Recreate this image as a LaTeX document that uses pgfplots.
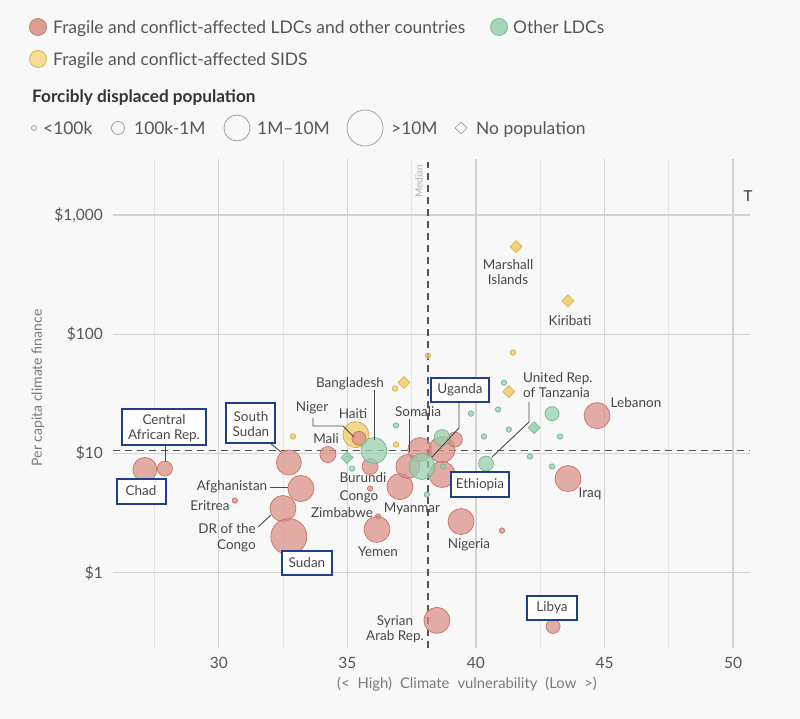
\documentclass[border=0pt]{standalone}
\usepackage{pgfplots}
\pgfplotsset{compat=1.18}
\usepackage{pgfplotstable}
\usepackage{fontspec}
\setmainfont{Lato}

\definecolor{bg}{HTML}{F8F8F8}
\definecolor{rfill}{HTML}{DA8E83}
\definecolor{rdraw}{HTML}{C47468}
\definecolor{gfill}{HTML}{96CFAF}
\definecolor{gdraw}{HTML}{74B590}
\definecolor{yfill}{HTML}{F1CC66}
\definecolor{ydraw}{HTML}{D6AE48}
\definecolor{boxblue}{HTML}{1F3F8C}
\definecolor{lblc}{HTML}{474747}
\definecolor{leadc}{HTML}{4A4A4A}
\definecolor{gridc}{HTML}{D3D3D3}
\definecolor{gridm}{HTML}{E6E6E6}
\definecolor{tickc}{HTML}{555555}
\definecolor{axl}{HTML}{7A7A7A}
\definecolor{medc}{HTML}{555555}
\definecolor{legc}{HTML}{555555}

% red: fragile and conflict-affected LDCs and other countries (x, y, radius)
\pgfplotstableread{
x y r
27.12 7.35 12
27.90 7.48 7.5
32.72 8.41 12.5
33.19 5.09 13
30.62 4.04 2.7
32.49 3.46 13
32.72 2.01 18
34.24 9.81 8
35.88 7.78 8
35.88 5.09 2.7
36.19 2.97 2.7
36.15 2.31 13
37.04 5.28 13
37.35 7.78 12
37.82 10.8 12
38.68 10.8 13
39.18 13.1 7.5
38.68 6.67 13
39.42 2.69 13
41.01 2.26 2.7
43.58 6.17 13
44.71 20.8 13
38.48 0.399 13
43.00 0.355 7
}\redpts

% green: other LDCs
\pgfplotstableread{
x y r
36.03 10.6 13
37.90 7.78 13
38.68 13.6 8
40.39 8.24 7.5
42.96 21.6 7
35.18 7.48 2.7
36.89 17.2 2.7
38.72 7.78 2.7
38.09 4.53 2.7
39.81 21.6 2.7
40.86 23.4 2.7
40.31 13.9 2.7
41.28 15.9 2.7
41.09 39.4 2.7
43.27 13.9 2.7
42.10 9.44 2.7
42.96 7.78 2.7
}\greenpts

\pgfplotstableread{
x y
34.98 9.26
42.26 16.5
}\greendia

% yellow: fragile and conflict-affected SIDS
\pgfplotstableread{
x y r
35.33 14.4 13
32.88 13.9 2.7
38.13 66.2 2.7
36.85 35.1 2.7
41.44 70.2 2.7
36.89 11.9 2.7
}\yellowpts

\pgfplotstableread{
x y
37.20 39.4
41.28 33.1
41.56 543
43.58 191
}\yellowdia

% Niger (red) drawn over Haiti
\pgfplotstableread{
x y r
35.45 13.4 7
}\nigerpt

\pgfplotsset{
  bub/.style 2 args={scatter, only marks, mark=*,
    scatter/use mapped color={draw=#1, fill=#2},
    visualization depends on={\thisrow{r}\as\rad},
    scatter/@pre marker code/.append style={/tikz/mark size=\rad},
    mark options={fill opacity=0.72, line width=0.7pt}},
}
\tikzset{
  lbl/.style={font=\fontsize{13.5}{15.5}\selectfont, text=lblc, inner sep=0pt, align=center},
  lead/.style={draw=leadc, line width=0.9pt},
  bx/.style={draw=boxblue, fill=white, line width=2.7pt},
  leg/.style={font=\fontsize{17.4}{20}\selectfont, text=legc, inner sep=0pt, anchor=base west},
}

\begin{document}
\begin{tikzpicture}[x=1pt,y=1pt]
\fill[bg] (0,0) rectangle (800,-719);

\begin{axis}[
  at={(113pt,-648pt)}, anchor=south west,
  scale only axis, width=637pt, height=489pt,
  xmin=25.88, xmax=50.66,
  ymode=log, ymin=0.234, ymax=2950,
  axis line style={draw=none},
  major tick style={draw=none}, minor tick style={draw=none},
  xtick={30,35,40,45,50}, xticklabels={30,35,40,45,50},
  minor xtick={27.5,32.5,37.5,42.5,47.5},
  ytick={1,10,100,1000}, yticklabels={\$1,\$10,\$100,{\$1,000}},
  xmajorgrids, xminorgrids, ymajorgrids,
  major grid style={draw=gridc, line width=1.1pt},
  minor grid style={draw=gridm, line width=1.1pt},
  ticklabel style={font=\fontsize{15.5}{17}\selectfont, text=tickc},
  yticklabel style={inner sep=0pt, xshift=-10pt},
  xticklabel style={inner sep=0pt, yshift=-9pt},
  clip=false,
]
% medians
\addplot[medc, line width=1.3pt, dash pattern=on 7pt off 5pt] coordinates {(38.13,0.234) (38.13,2800)};
\addplot[medc, line width=1.3pt, dash pattern=on 7pt off 5pt] coordinates {(25.88,10.6) (50.66,10.6)};

\addplot[bub={rdraw}{rfill}] table[x=x,y=y] {\redpts};
\addplot[bub={ydraw}{yfill}] table[x=x,y=y] {\yellowpts};
\addplot[bub={rdraw}{rfill}] table[x=x,y=y] {\nigerpt};
\addplot[bub={gdraw}{gfill}] table[x=x,y=y] {\greenpts};
\addplot[only marks, mark=square*, mark size=4.2,
  mark options={rotate=45, draw=gdraw, fill=gfill, fill opacity=0.85, line width=0.6pt}]
  table[x=x,y=y] {\greendia};
\addplot[only marks, mark=square*, mark size=4.2,
  mark options={rotate=45, draw=ydraw, fill=yfill, fill opacity=0.85, line width=0.6pt}]
  table[x=x,y=y] {\yellowdia};
\end{axis}

% ---------- legend ----------
\filldraw[draw=rdraw, fill=rfill, fill opacity=0.85, line width=0.7pt] (38,-27) circle (8.5);
\node[leg] at (53,-33.3) {Fragile and conflict-affected LDCs and other countries};
\filldraw[draw=gdraw, fill=gfill, fill opacity=0.85, line width=0.7pt] (499,-27) circle (8.5);
\node[leg] at (513,-33.3) {Other LDCs};
\filldraw[draw=ydraw, fill=yfill!80, fill opacity=0.85, line width=0.7pt] (38,-59) circle (8.5);
\node[leg] at (53,-65.3) {Fragile and conflict-affected SIDS};
\node[leg, font=\fontsize{17.2}{20}\selectfont\bfseries, text=black!80] at (32,-102.3) {Forcibly displaced population};
\draw[gray!80, line width=0.7pt] (34,-128) circle (2.5);
\node[leg] at (43,-134.3) {<100k};
\draw[gray!80, line width=0.7pt] (118,-128) circle (6.5);
\node[leg] at (134,-134.3) {100k-1M};
\draw[gray!80, line width=0.7pt] (237,-128) circle (13);
\node[leg] at (257,-134.3) {1M–10M};
\draw[gray!80, line width=0.7pt] (365,-128) circle (18);
\node[leg] at (391,-134.3) {>10M};
\draw[gray!80, line width=0.7pt] (461,-122) -- (467,-128) -- (461,-134) -- (455,-128) -- cycle;
\node[leg] at (476,-134.3) {No population};

% ---------- axis labels ----------
\node[rotate=90, font=\fontsize{14}{16}\selectfont, text=axl] at (38,-388) {Per capita climate finance};
\node[font=\fontsize{14.8}{16}\selectfont, text=axl] at (467,-684) {(<\hspace{8pt}High)\hspace{8pt}Climate\hspace{8pt}vulnerability\hspace{8pt}(Low\hspace{8pt}>)};
\node[rotate=90, font=\fontsize{10}{12}\selectfont, text=black!30] at (419,-181) {Median};
\node[font=\fontsize{15}{17}\selectfont, text=black!80] at (748,-196) {T};

% ---------- leader lines ----------
\draw[lead] (165,-445) -- (165,-462);
\draw[lead] (270,-443) -- (281,-452);
\draw[lead] (270,-487) -- (288,-487);
\draw[lead] (258,-527) -- (271,-515);
\draw[lead] (313,-418) -- (313,-426) -- (343,-426) -- (354,-437);
\draw[lead] (374,-390) -- (374,-440);
\draw[lead] (409,-419) -- (409,-452);
\draw[lead] (459,-402) -- (459,-428) -- (432,-457);
\draw[lead] (529,-402) -- (529,-422) -- (492,-457);

% ---------- boxes ----------
\draw[bx] (122,-409) rectangle (206,-445);
\draw[bx] (117,-479) rectangle (166,-504);
\draw[bx] (226,-403) rectangle (275,-443);
\draw[bx] (282,-551) rectangle (332,-575);
\draw[bx] (431,-378) rectangle (489,-402);
\draw[bx] (451,-472) rectangle (509,-497);
\draw[bx] (527,-596) rectangle (577,-620);

% ---------- labels ----------
\node[lbl] at (164,-428) {Central\\African Rep.};
\node[lbl] at (141,-491) {Chad};
\node[lbl] at (251,-424) {South\\Sudan};
\node[lbl] at (307,-563) {Sudan};
\node[lbl] at (460,-390) {Uganda};
\node[lbl] at (480,-485) {Ethiopia};
\node[lbl] at (552,-608) {Libya};
\node[lbl] at (232,-487) {Afghanistan};
\node[lbl] at (210,-506) {Eritrea};
\node[lbl, align=right, anchor=east] at (256,-538) {DR of the\\Congo};
\node[lbl] at (312,-408) {Niger};
\node[lbl] at (353,-414) {Haiti};
\node[lbl] at (326,-439) {Mali};
\node[lbl] at (350,-384) {Bangladesh};
\node[lbl] at (418,-412) {Somalia};
\node[lbl, align=left, anchor=west] at (523,-385) {United Rep.\\of Tanzania};
\node[lbl] at (636,-403) {Lebanon};
\node[lbl] at (590,-494) {Iraq};
\node[lbl] at (469,-545) {Nigeria};
\node[lbl] at (412,-509) {Myanmar};
\node[lbl] at (363,-478) {Burundi};
\node[lbl] at (359,-497) {Congo};
\node[lbl] at (342,-513) {Zimbabwe};
\node[lbl] at (378,-552) {Yemen};
\node[lbl] at (395,-629) {Syrian\\Arab Rep.};
\node[lbl] at (508,-272) {Marshall\\Islands};
\node[lbl] at (570,-321) {Kiribati};
\end{tikzpicture}
\end{document}
